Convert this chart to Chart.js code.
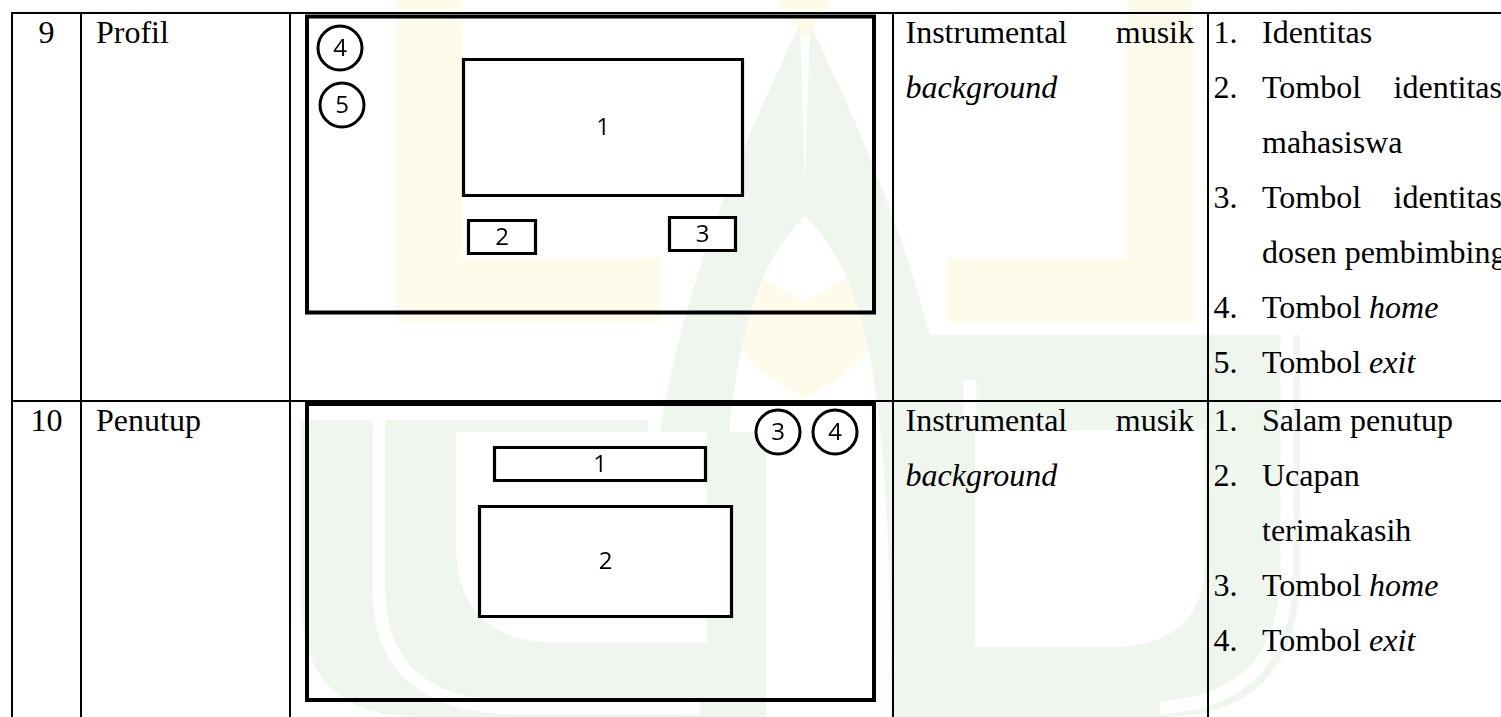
<!DOCTYPE html>
<html>
<head>
<meta charset="utf-8">
<title>Storyboard 9-10</title>
<script src="https://cdn.jsdelivr.net/npm/chart.js@4.4.1/dist/chart.umd.min.js"></script>
<style>
    html, body { margin: 0; padding: 0; background: #fff; }
    #page { position: relative; width: 1501px; height: 717px; overflow: hidden; background: #fff; }
    #watermark { position: absolute; left: 0; top: 0; }
    .rule { position: absolute; background: #000; }
    .txt { position: absolute; font-family: "Liberation Serif", "Tinos", "Times New Roman", "Nimbus Roman", "FreeSerif", "DejaVu Serif", serif; font-size: 32px; line-height: 55px; height: 55px; color: #000; white-space: nowrap; }
    .just { white-space: normal; text-align: justify; text-align-last: justify; }
    .wf { position: absolute; }
</style>
</head>
<body>
<div id="page">
    <svg id="watermark" width="1501" height="717">
        <!-- bagian kuning logo -->
        <g fill="#fffbea">
            <path d="M397,0 L462,0 L462,258 L660,258 L660,322 L397,322 Z"/>
            <path d="M1127,0 L1193,0 L1193,322 L947,322 L947,258 L1127,258 Z"/>
            <path d="M776,0 L833,0 L804,40 Z"/>
            <path d="M734,330 C736,300 748,285 762,277 L804,302 L848,277 C862,285 874,300 875,330 C870,360 840,380 805,398 C770,380 740,360 734,330 Z"/>
        </g>
        <!-- bagian hijau logo -->
        <g fill="#eef6ee">
            <path d="M640,717 C640,470 665,300 800,25 L806,215 C745,275 719,370 719,717 Z"/>
            <path d="M970,717 C970,470 945,300 810,25 L804,215 C865,275 891,370 891,717 Z"/>
            <path d="M301,420 L648,420 L648,432 L766,432 L766,717 L420,717 Q301,717 301,600 Z"/>
            <path d="M893,335 L1300,335 L1300,570 Q1300,717 1160,717 L893,717 Z"/>
        </g>
        <g fill="#fff">
            <path d="M456,432 L707,432 L707,643 L560,643 Q456,643 456,545 Z"/>
            <path d="M975,430 L1205,430 L1205,560 Q1205,647 1110,647 L975,647 Z"/>
        </g>
        <g fill="none" stroke="#fff" stroke-width="13">
            <path d="M379,420 L379,590 Q379,708 520,708 L700,708"/>
            <path d="M1287,330 L1287,570 Q1287,700 1160,708"/>
            <path d="M970,380 L970,430"/>
        </g>
    </svg>
    <div id="table"></div>
    <div class="wf" style="left:290px;top:13px;width:603px;height:388px"><canvas id="wfProfil"></canvas></div>
    <div class="wf" style="left:290px;top:401px;width:603px;height:316px"><canvas id="wfPenutup"></canvas></div>
</div>
<script>
// isi tabel storyboard
const rowNumbers = ['9', '10'];
const screenNames = ['Profil', 'Penutup'];
const audioFirst = ['Instrumental musik', 'Instrumental musik'];
const audioSecond = ['background', 'background'];
// tiap item bisa terdiri dari beberapa baris (baris pertama rata kiri-kanan)
const profilItems = [['Identitas'], ['Tombol identitas', 'mahasiswa'], ['Tombol identitas', 'dosen pembimbing'], ['Tombol <i>home</i>'], ['Tombol <i>exit</i>']];
const penutupItems = [['Salam penutup'], ['Ucapan', 'terimakasih'], ['Tombol <i>home</i>'], ['Tombol <i>exit</i>']];

// rancangan layar (koordinat di dalam sel, px)
const profilFrame = [17, 3.5, 584, 299.5];
const profilBoxes = [[173.5, 46.5, 452.5, 182.5], [178.5, 207.5, 245.5, 240.5], [379.5, 204.5, 445.5, 237.5]];
const profilBoxLabels = ['1', '2', '3'];
const profilButtons = [{ x: 50, y: 35 }, { x: 52, y: 92 }];
const profilButtonLabels = ['4', '5'];

const penutupFrame = [17, 3, 584, 299];
const penutupBoxes = [[204.5, 46.5, 415.5, 79.5], [189.5, 105.5, 441.5, 215.5]];
const penutupBoxLabels = ['1', '2'];
const penutupButtons = [{ x: 488, y: 31 }, { x: 545, y: 31 }];
const penutupButtonLabels = ['3', '4'];

const rowTops = [13, 401];
const colLines = [11, 80, 289, 892, 1207];

function renderTable() {
    let html = '';
    colLines.forEach(x => { html += `<div class="rule" style="left:${x}px;top:12px;width:2px;height:705px"></div>`; });
    html += `<div class="rule" style="left:11px;top:12px;width:1490px;height:2px"></div>`;
    html += `<div class="rule" style="left:11px;top:400px;width:1490px;height:2px"></div>`;

    const lists = [profilItems, penutupItems];
    rowTops.forEach((rt, r) => {
        const top = rt - 8.3;
        html += `<div class="txt" style="left:13px;width:67px;text-align:center;top:${top}px">${rowNumbers[r]}</div>`;
        html += `<div class="txt" style="left:96px;top:${top}px">${screenNames[r]}</div>`;
        html += `<div class="txt just" style="left:905.5px;width:288.5px;top:${top}px">${audioFirst[r]}</div>`;
        html += `<div class="txt" style="left:905.5px;top:${top + 55}px"><i>${audioSecond[r]}</i></div>`;
        let line = 0;
        lists[r].forEach((item, i) => {
            item.forEach((seg, j) => {
                const y = top + line * 55;
                if (j === 0) html += `<div class="txt" style="left:1213.5px;top:${y}px">${i + 1}.</div>`;
                if (j < item.length - 1) {
                    html += `<div class="txt just" style="left:1262px;width:240px;top:${y}px">${seg}</div>`;
                } else {
                    html += `<div class="txt" style="left:1262px;top:${y}px">${seg}</div>`;
                }
                line++;
            });
        });
    });
    document.getElementById('table').innerHTML = html;
}

function rectPoints(b) {
    return [{ x: b[0], y: b[1] }, { x: b[2], y: b[1] }, { x: b[2], y: b[3] }, { x: b[0], y: b[3] }, { x: b[0], y: b[1] }];
}

// tulis nomor di tengah kotak / tombol
const labelPlugin = {
    id: 'wfLabels',
    afterDatasetsDraw(chart) {
        const ctx = chart.ctx;
        ctx.save();
        ctx.fillStyle = '#000';
        ctx.font = '24px "Open Sans", sans-serif';
        ctx.textAlign = 'center';
        ctx.textBaseline = 'middle';
        chart.data.datasets.forEach((ds, i) => {
            if (!ds.marks) return;
            const meta = chart.getDatasetMeta(i);
            if (ds.kind === 'box') {
                const pts = meta.data;
                const cx = (pts[0].x + pts[2].x) / 2;
                const cy = (pts[0].y + pts[2].y) / 2;
                ctx.fillText(ds.marks[0], cx, cy + 1);
            } else {
                meta.data.forEach((p, k) => ctx.fillText(ds.marks[k], p.x, p.y + 1));
            }
        });
        ctx.restore();
    }
};

function renderWireframe(id, frame, boxes, boxLabels, buttons, buttonLabels, height) {
    const datasets = [{
        data: rectPoints(frame),
        showLine: true,
        borderColor: '#000',
        borderWidth: 4,
        borderCapStyle: 'square',
        borderJoinStyle: 'miter',
        pointRadius: 0,
        fill: false
    }];
    boxes.forEach((b, i) => {
        datasets.push({
            kind: 'box',
            marks: [boxLabels[i]],
            data: rectPoints(b),
            showLine: true,
            borderColor: '#000',
            borderWidth: 3.2,
            borderCapStyle: 'square',
            borderJoinStyle: 'miter',
            backgroundColor: '#fff',
            pointRadius: 0,
            fill: 'shape'
        });
    });
    datasets.push({
        kind: 'button',
        marks: buttonLabels,
        data: buttons,
        showLine: false,
        pointStyle: 'circle',
        pointRadius: 22,
        pointBorderWidth: 3,
        pointBorderColor: '#000',
        pointBackgroundColor: '#fff'
    });

    new Chart(document.getElementById(id), {
        type: 'scatter',
        data: { datasets: datasets },
        options: {
            responsive: true,
            maintainAspectRatio: false,
            animation: false,
            events: [],
            layout: { autoPadding: false, padding: 0 },
            scales: {
                x: { type: 'linear', min: 0, max: 603, display: false },
                y: { type: 'linear', min: 0, max: height, reverse: true, display: false }
            },
            plugins: { legend: { display: false }, tooltip: { enabled: false } }
        },
        plugins: [labelPlugin]
    });
}

renderTable();
renderWireframe('wfProfil', profilFrame, profilBoxes, profilBoxLabels, profilButtons, profilButtonLabels, 388);
renderWireframe('wfPenutup', penutupFrame, penutupBoxes, penutupBoxLabels, penutupButtons, penutupButtonLabels, 316);
</script>
</body>
</html>
